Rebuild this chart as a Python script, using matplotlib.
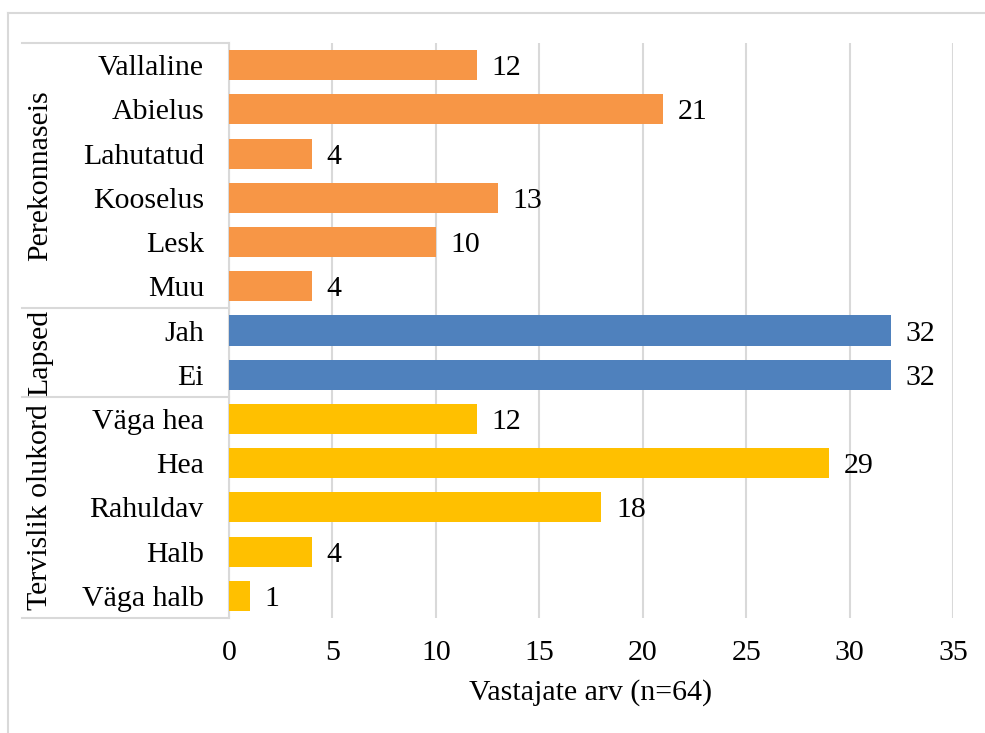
import matplotlib.pyplot as plt
from matplotlib.lines import Line2D

plt.rcParams['font.family'] = ['Liberation Serif', 'DejaVu Serif']

# === data ===
groups = ['Perekonnaseis', 'Lapsed', 'Tervislik olukord']
perekond_labels = ['Vallaline', 'Abielus', 'Lahutatud', 'Kooselus', 'Lesk', 'Muu']
perekond_values = [12, 21, 4, 13, 10, 4]
lapsed_labels = ['Jah', 'Ei']
lapsed_values = [32, 32]
tervis_labels = ['Väga hea', 'Hea', 'Rahuldav', 'Halb', 'Väga halb']
tervis_values = [12, 29, 18, 4, 1]
colors = ['#F79646', '#4F81BD', '#FFC000']

xticks = [0, 5, 10, 15, 20, 25, 30, 35]

# === figure ===
W, H = 985, 733
fig = plt.figure(figsize=(W / 100, H / 100), dpi=100)
ax = fig.add_axes([229 / W, 1 - 618 / H, (953 - 229) / W, (618 - 43) / H])

grid_col = '#D9D9D9'
fs = 21.5

labels = perekond_labels + lapsed_labels + tervis_labels
values = perekond_values + lapsed_values + tervis_values
sizes = [len(perekond_labels), len(lapsed_labels), len(tervis_labels)]
bar_colors = []
for c, n in zip(colors, sizes):
    bar_colors += [c] * n

ypos = list(range(len(labels)))
ax.barh(ypos, values, height=0.68, color=bar_colors, zorder=3)

# value labels right of the bars
for y, v in zip(ypos, values):
    ax.annotate(str(v), (v, y), xytext=(10.5, 0), textcoords='offset points',
                va='center_baseline', ha='left', fontsize=fs)

ax.set_ylim(len(labels) - 0.5, -0.5)
ax.set_xlim(0, 35)
ax.set_yticks(ypos)
ax.set_yticklabels(labels, fontsize=fs, va='center_baseline')
ax.set_xticks(xticks)
ax.set_xticklabels([str(t) for t in xticks], fontsize=fs)
ax.tick_params(axis='both', length=0)
ax.tick_params(axis='y', pad=18)
ax.tick_params(axis='x', pad=16)
ax.set_xlabel('Vastajate arv (n=64)', fontsize=fs, labelpad=9)

ax.xaxis.grid(True, color=grid_col, linewidth=1.5, zorder=0)
for s in ['top', 'right', 'bottom']:
    ax.spines[s].set_visible(False)
ax.spines['left'].set_color(grid_col)
ax.spines['left'].set_linewidth(1.5)

# group table lines and labels
tr = ax.get_yaxis_transform()
x_left = (22 - 229) / (953 - 229)
bounds = [-0.5]
for n in sizes:
    bounds.append(bounds[-1] + n)
for b in bounds:
    ax.plot([x_left, 0], [b, b], transform=tr, color=grid_col,
            linewidth=1.5, clip_on=False)
x_grp = (40 - 229) / (953 - 229)
for g, b0, b1 in zip(groups, bounds[:-1], bounds[1:]):
    ax.text(x_grp, (b0 + b1) / 2, g, transform=tr, rotation=90,
            ha='center', va='center', fontsize=fs)

# outer chart frame
fig.add_artist(Line2D([8 / W, 1], [1 - 13 / H, 1 - 13 / H], color=grid_col, linewidth=1.5))
fig.add_artist(Line2D([8 / W, 8 / W], [0, 1 - 13 / H], color=grid_col, linewidth=1.5))

fig.savefig('out.png', dpi=100, facecolor='white')
